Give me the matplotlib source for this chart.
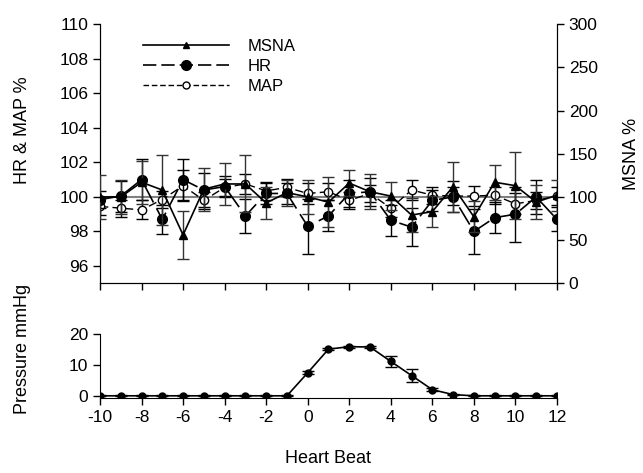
import matplotlib
matplotlib.use("Agg")
import matplotlib.pyplot as plt
from matplotlib.lines import Line2D
import numpy as np

plt.rcParams['font.family'] = ['Liberation Sans', 'DejaVu Sans']
plt.rcParams['font.size'] = 12
plt.rcParams['axes.unicode_minus'] = False

beats = list(range(-10, 13))

hr = [99.85, 100.05, 101.0, 98.7, 101.0, 100.4, 100.6, 98.9, 100.2, 100.2, 98.3,
      98.9, 100.2, 100.3, 98.65, 98.25, 99.8, 100.0, 98.0, 98.8, 99.0, 100.0, 98.7]
hr_err = [0.5, 0.9, 1.2, 0.85, 1.2, 1.0, 0.6, 1.0, 0.6, 0.6, 1.6,
          0.9, 0.8, 0.8, 0.9, 1.1, 0.6, 0.9, 1.3, 0.9, 1.6, 1.0, 0.7]

map_ = [99.45, 99.35, 99.25, 99.85, 100.65, 99.8, 100.55, 100.75, 100.35, 100.55, 100.2,
        100.3, 99.8, 100.2, 99.35, 100.4, 100.1, 100.05, 100.05, 100.1, 99.6, 99.8, 100.05]
map_err = [0.5, 0.5, 0.55, 0.5, 0.9, 0.5, 0.5, 0.6, 0.5, 0.5, 0.6,
           0.5, 0.5, 0.5, 0.5, 0.6, 0.5, 0.5, 0.6, 0.5, 0.6, 0.5, 0.5]

msna = [100, 100, 117, 108, 56, 109, 115, 115, 93, 105, 100,
        94, 116, 106, 101, 79, 83, 112, 77, 117, 113, 94, 102]
msna_err = [25, 20, 25, 40, 28, 25, 24, 33, 18, 15, 20,
            29, 15, 20, 16, 20, 18, 29, 18, 20, 39, 20, 18]

pressure = [0, 0, 0, 0, 0, 0, 0, 0, 0, 0, 7.5,
            15.2, 16.0, 15.9, 11.2, 6.6, 2.0, 0.4, 0, 0, 0, 0, 0]
pressure_err = [0.2, 0.2, 0.2, 0.2, 0.2, 0.2, 0.2, 0.2, 0.2, 0.2, 0.5,
                0.4, 0.3, 0.3, 1.8, 2.2, 0.5, 0.2, 0.2, 0.2, 0.2, 0.2, 0.2]

xticks = list(range(-10, 13, 2))
left_ticks = [96, 98, 100, 102, 104, 106, 108, 110]
right_ticks = [0, 50, 100, 150, 200, 250, 300]
p_ticks = [0, 10, 20]

fig = plt.figure(figsize=(6.43, 4.73), dpi=100)
ax = fig.add_axes([0.1555, 0.401, 0.7107, 0.548])
ax2 = ax.twinx()
axb = fig.add_axes([0.1555, 0.158, 0.7107, 0.135])

hr_dash = (12, 4)
map_dash = (6, 3)

ax.axhline(100, color='#808080', lw=1.5, zorder=1)

ax.errorbar(beats, map_, yerr=map_err, color='black', lw=1.0, dashes=map_dash,
            marker='o', ms=6, mfc='white', mec='black', mew=1.0,
            ecolor='black', elinewidth=1.0, capsize=4, capthick=1.0, zorder=3)
ax.errorbar(beats, hr, yerr=hr_err, color='black', lw=1.2, dashes=hr_dash,
            marker='o', ms=7, mfc='black', mec='black',
            ecolor='black', elinewidth=1.0, capsize=4, capthick=1.0, zorder=4)
ax2.errorbar(beats, msna, yerr=msna_err, color='black', lw=1.2,
             marker='^', ms=5.5, mfc='black', mec='black',
             ecolor='#333333', elinewidth=1.0, capsize=4, capthick=1.0, zorder=5)

ax.set_xlim(-10, 12)
ax.set_ylim(95, 110)
ax2.set_ylim(0, 300)
ax.set_yticks(left_ticks)
ax2.set_yticks(right_ticks)
ax.set_xticks(xticks)
ax.set_xticklabels([])
ax.spines['top'].set_visible(False)
ax2.spines['top'].set_visible(False)
ax.tick_params(direction='out', length=5, width=1, labelsize=12.5)
ax2.tick_params(direction='out', length=5, width=1, labelsize=12.5)
ax.set_ylabel('HR & MAP %', fontsize=13)
ax.yaxis.set_label_coords(-0.15, 0.59)
ax2.set_ylabel('MSNA %', fontsize=13, labelpad=18)

handles = [
    Line2D([], [], color='black', lw=1.2, marker='^', ms=5, mfc='black'),
    Line2D([], [], color='black', lw=1.2, dashes=(8, 3), marker='o', ms=7, mfc='black'),
    Line2D([], [], color='black', lw=1.0, dashes=(4, 2), marker='o', ms=5, mfc='white'),
]
ax.legend(handles, ['MSNA', 'HR', 'MAP'], loc='upper left',
          bbox_to_anchor=(0.075, 0.975), frameon=False, handlelength=5.2,
          handletextpad=1.1, labelspacing=0.3, fontsize=12, borderpad=0)

axb.errorbar(beats, pressure, yerr=pressure_err, color='black', lw=1.2,
             marker='o', ms=5, mfc='black', mec='black',
             ecolor='black', elinewidth=1.0, capsize=4, capthick=1.0)
axb.set_xlim(-10, 12)
axb.set_ylim(-0.8, 20)
axb.set_yticks(p_ticks)
axb.set_xticks(xticks)
axb.spines['top'].set_visible(False)
axb.spines['right'].set_visible(False)
axb.tick_params(direction='out', length=5, width=1, labelsize=12.5)
axb.set_ylabel('Pressure mmHg', fontsize=13)
axb.yaxis.set_label_coords(-0.15, 0.78)
axb.set_xlabel('Heart Beat', fontsize=13, labelpad=18)

fig.savefig('out.png', dpi=100)
